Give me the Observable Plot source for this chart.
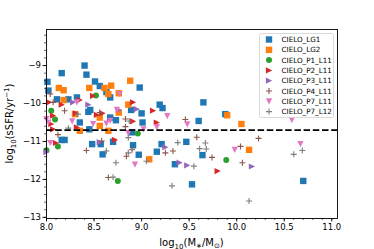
<!DOCTYPE html>
<html>
<head>
<meta charset="utf-8">
<script src="https://cdn.jsdelivr.net/npm/d3@7"></script>
<script src="https://cdn.jsdelivr.net/npm/@observablehq/plot@0.6"></script>
<style>
  html, body { margin: 0; padding: 0; background: white; }
  #chart { width: 374px; height: 249px; }
</style>
</head>
<body>
<div id="chart"></div>
<script>
// ---------- data ----------
const seriesNames = ["CIELO_LG1","CIELO_LG2","CIELO_P1_L11","CIELO_P2_L11","CIELO_P3_L11","CIELO_P4_L11","CIELO_P7_L11","CIELO_P7_L12"];
const seriesColors = ["#1f77b4","#ff7f0e","#2ca02c","#d62728","#9467bd","#8c564b","#e377c2","#7f7f7f"];

const lg1X = [8.40,8.16,8.42,8.51,8.56,8.98,8.01,8.02,8.63,8.67,8.11,8.23,8.32,9.19,9.22,9.00,8.44,8.89,9.65,9.60,9.88,8.46,8.67,8.35,8.73,9.01,8.45,8.16,8.19,8.48,8.57,8.70,8.59,8.91,8.97,9.16,9.21,9.47,9.35,9.53,9.64,10.70,8.90];
const lg1Y = [-9.00,-9.20,-9.24,-9.42,-9.54,-9.58,-9.43,-9.66,-9.70,-9.84,-9.89,-9.89,-9.84,-10.03,-10.12,-10.26,-10.22,-10.17,-9.97,-10.46,-10.28,-10.17,-10.37,-10.50,-10.44,-10.50,-10.68,-10.96,-10.96,-11.07,-11.07,-11.01,-11.34,-11.10,-11.35,-11.27,-11.07,-11.01,-11.60,-12.13,-11.36,-12.04,-10.76];

const lg2X = [8.88,8.68,8.45,8.13,8.18,8.61,8.65,8.76,8.18,8.86,8.56,9.90,10.05,8.30,8.76,8.35,8.65,9.08,10.13,8.56];
const lg2Y = [-9.40,-9.53,-9.59,-9.59,-9.65,-9.59,-9.75,-9.73,-9.91,-10.03,-10.37,-10.31,-10.54,-10.28,-10.24,-10.72,-10.72,-11.47,-11.22,-10.59];

const p1X = [8.52,8.05,8.09,8.12,8.00,8.96,8.75,9.89];
const p1Y = [-9.79,-10.19,-10.42,-11.13,-11.23,-10.79,-12.04,-11.49];

const p2X = [8.49,8.35,8.03,8.91,9.12,8.16,8.31,8.53,8.59,8.91,8.07,9.16,8.07,8.10,8.72,8.32,8.05,9.80];
const p2Y = [-9.80,-9.91,-9.97,-9.97,-10.19,-10.03,-10.26,-10.30,-10.26,-10.47,-10.32,-10.50,-10.68,-11.04,-10.96,-10.63,-10.54,-11.78];

const p3X = [8.44,8.28,8.95,8.76,8.56,9.25,9.40,9.48,10.16,8.00];
const p3Y = [-10.03,-9.97,-10.15,-10.17,-11.02,-11.15,-11.56,-11.63,-11.66,-11.28];

const p4X = [8.04,8.07,9.46,8.19,8.56,8.83,8.12,8.42,8.58,8.84,8.65,9.25,9.33,8.90,8.83,9.58,9.74,10.04,10.23,10.06];
const p4Y = [-9.75,-9.97,-10.42,-10.19,-10.24,-10.41,-10.82,-11.24,-10.99,-11.39,-11.95,-11.30,-11.25,-11.22,-10.61,-10.89,-11.42,-11.13,-10.92,-11.56];

const p7aX = [8.77,8.32,9.27,8.74,8.00,9.48,10.58,8.27,8.49,8.67,9.02,9.16,8.04,8.86,8.93,9.98,10.67,8.63,8.02];
const p7aY = [-9.75,-9.97,-10.33,-10.17,-10.41,-10.55,-10.44,-10.47,-10.54,-10.46,-10.68,-10.62,-11.04,-10.78,-11.61,-11.22,-11.07,-10.53,-10.50];

const p7bX = [8.33,8.87,8.23,8.63,8.73,8.70,8.86,8.86,9.05,9.38,9.55,9.32,9.67,9.61,9.68,10.13,10.69,10.60];
const p7bY = [-10.28,-10.46,-10.65,-11.25,-11.56,-11.94,-10.90,-11.30,-11.52,-11.03,-11.65,-12.17,-11.04,-11.19,-11.20,-12.57,-11.24,-11.34];

const thresholdY = [-10.7];
const xTicks = [8.0,8.5,9.0,9.5,10.0,10.5,11.0];
const yTicks = [-13,-12,-11,-10,-9];
const xMinorTicks = d3.range(80, 111).map(d => d / 10);
const yMinorTicks = d3.range(-65, -40).map(d => d / 5);

// ---------- symbols ----------
const symTriRight = { draw(ctx, size) { const r = Math.sqrt(size / Math.PI); ctx.moveTo(r, 0); ctx.lineTo(-r, -r); ctx.lineTo(-r, r); ctx.closePath(); } };
const symTriDown = { draw(ctx, size) { const r = Math.sqrt(size / Math.PI); ctx.moveTo(0, r); ctx.lineTo(-r, -r); ctx.lineTo(r, -r); ctx.closePath(); } };
const symPlus = { draw(ctx, size) { const r = Math.sqrt(size / Math.PI); ctx.moveTo(-r, 0); ctx.lineTo(r, 0); ctx.moveTo(0, -r); ctx.lineTo(0, r); } };
const symSquare = { draw(ctx, size) { const r = Math.sqrt(size / Math.PI); ctx.rect(-r, -r, 2 * r, 2 * r); } };
const symCircle = { draw(ctx, size) { const r = Math.sqrt(size / Math.PI); ctx.moveTo(r, 0); ctx.arc(0, 0, r, 0, 2 * Math.PI); } };

const seriesSymbols = [symSquare, symSquare, symCircle, symTriRight, symTriRight, symPlus, symTriDown, symPlus];
const seriesR = [3.2, 3.2, 3.0, 3.1, 3.1, 3.0, 3.1, 3.0];
const seriesXs = [lg1X, lg2X, p1X, p2X, p3X, p4X, p7aX, p7bX];
const seriesYs = [lg1Y, lg2Y, p1Y, p2Y, p3Y, p4Y, p7aY, p7bY];

const dotMarks = seriesNames.map((name, i) => {
  const rows = seriesXs[i].map((x, j) => ({ x, y: seriesYs[i][j] }));
  const isPlus = seriesSymbols[i] === symPlus;
  return Plot.dot(rows, {
    x: "x", y: "y", symbol: seriesSymbols[i], r: seriesR[i],
    fill: isPlus ? "none" : seriesColors[i],
    stroke: isPlus ? seriesColors[i] : "none",
    strokeWidth: isPlus ? 1.1 : 0
  });
});

const W = 374, H = 249;
const mTop = 29, mRight = 37, mBottom = 31, mLeft = 46;

const svg = Plot.plot({
  width: W, height: H,
  marginTop: mTop, marginRight: mRight, marginBottom: mBottom, marginLeft: mLeft,
  style: { fontFamily: "DejaVu Sans", fontSize: "8.5px", background: "white", color: "black" },
  x: { domain: [8.0, 11.06] },
  y: { domain: [-13.03, -8.05] },
  marks: [
    ...dotMarks,
    Plot.ruleY(thresholdY, { stroke: "black", strokeWidth: 1.8, strokeDasharray: "6.5,2.7" }),
    Plot.frame({ stroke: "black", strokeWidth: 0.9 }),
    Plot.axisX({ ticks: xMinorTicks, tickSize: 2, tickFormat: () => "", label: null, strokeWidth: 0.6 }),
    Plot.axisY({ ticks: yMinorTicks, tickSize: 2, tickFormat: () => "", label: null, strokeWidth: 0.6 }),
    Plot.axisX({ ticks: xTicks, tickSize: 3.5, tickPadding: 2, tickFormat: d3.format(".1f"), label: null, strokeWidth: 0.9 }),
    Plot.axisY({ ticks: yTicks, tickSize: 3.5, tickPadding: 2, tickFormat: d3.format("d"), label: null, strokeWidth: 0.9 })
  ]
});

const s = d3.select(svg);

// axis labels with sub/superscripts
const xl = s.append("text")
  .attr("x", (mLeft + W - mRight) / 2).attr("y", 246)
  .attr("text-anchor", "middle").attr("font-size", 10).attr("fill", "black");
xl.append("tspan").text("log");
xl.append("tspan").attr("font-size", 7).attr("dy", 2.5).text("10");
xl.append("tspan").attr("dy", -2.5).text("(M");
xl.append("tspan").attr("font-size", 7).attr("dy", 2).text("∗");
xl.append("tspan").attr("dy", -2).text("/M");
xl.append("tspan").attr("font-size", 7).attr("dy", 2).text("⊙");
xl.append("tspan").attr("dy", -2).text(")");

const yl = s.append("text")
  .attr("transform", `translate(13,${(mTop + H - mBottom) / 2}) rotate(-90)`)
  .attr("text-anchor", "middle").attr("font-size", 10).attr("fill", "black");
yl.append("tspan").text("log");
yl.append("tspan").attr("font-size", 7).attr("dy", 2.5).text("10");
yl.append("tspan").attr("dy", -2.5).text("(sSFR/yr");
yl.append("tspan").attr("font-size", 7).attr("dy", -4).text("−1");
yl.append("tspan").attr("dy", 4).text(")");

// legend
const lg = s.append("g").attr("text-anchor", "start");
lg.append("rect").attr("x", 259.5).attr("y", 33.5).attr("width", 74).attr("height", 84)
  .attr("rx", 2).attr("fill", "white").attr("fill-opacity", 0.85).attr("stroke", "#d0d0d0").attr("stroke-width", 0.8);
seriesNames.forEach((name, i) => {
  const cy = 39.5 + i * 10.3;
  const isPlus = seriesSymbols[i] === symPlus;
  lg.append("path")
    .attr("d", d3.symbol().type(seriesSymbols[i]).size(Math.PI * seriesR[i] * seriesR[i])())
    .attr("transform", `translate(269,${cy})`)
    .attr("fill", isPlus ? "none" : seriesColors[i])
    .attr("stroke", isPlus ? seriesColors[i] : "none")
    .attr("stroke-width", isPlus ? 1.1 : 0);
  lg.append("text").attr("x", 281.5).attr("y", cy + 2.6).attr("text-anchor", "start")
    .attr("font-size", 7.2).attr("fill", "black").text(name);
});

document.getElementById("chart").appendChild(svg);
</script>
</body>
</html>
